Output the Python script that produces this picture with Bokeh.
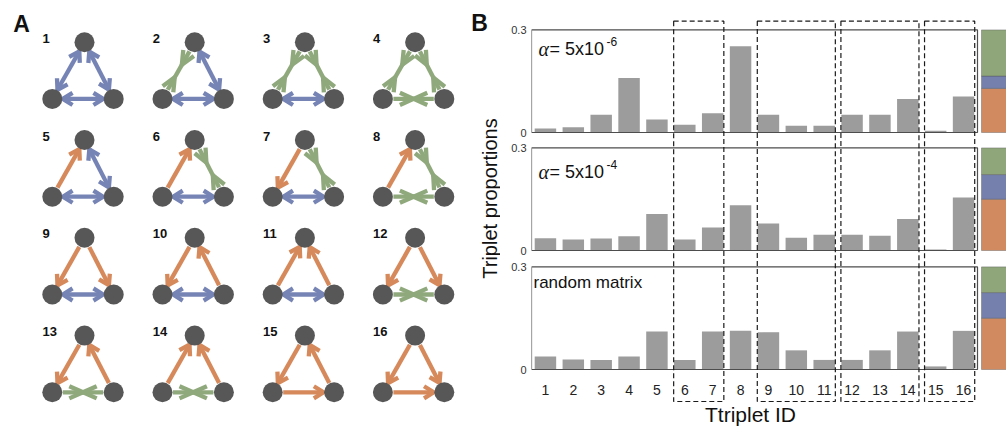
import math
from bokeh.plotting import figure
from bokeh.layouts import row
from bokeh.models import Range1d, FixedTicker, ColumnDataSource
from bokeh.embed import file_html
from bokeh.resources import INLINE
from bokeh.core.properties import value

# ---------------- data ----------------
triplet_ids = list(range(1, 17))
tick_labels = [str(i) for i in triplet_ids]
prop_alpha_5e6 = [0.012, 0.015, 0.052, 0.159, 0.038, 0.023, 0.056, 0.252,
                  0.052, 0.020, 0.020, 0.052, 0.052, 0.098, 0.005, 0.105]
prop_alpha_5e4 = [0.036, 0.032, 0.035, 0.042, 0.107, 0.032, 0.067, 0.132,
                  0.079, 0.037, 0.046, 0.046, 0.043, 0.092, 0.003, 0.155]
prop_random = [0.038, 0.029, 0.028, 0.038, 0.111, 0.028, 0.111, 0.113,
               0.109, 0.056, 0.028, 0.028, 0.056, 0.111, 0.009, 0.113]
panel_texts = ["= 5x10", "= 5x10", "random matrix"]
panel_exponents = ["-6", "-4", ""]
y_tick_labels = ["0", "0.3"]
y_tick_values = [0.0, 0.3]
mix_green = [0.45, 0.26, 0.25]
mix_blue = [0.12, 0.24, 0.25]
mix_orange = [0.43, 0.50, 0.50]
highlight_groups = [(6, 7), (9, 11), (12, 14), (15, 16)]
motif_numbers = list(range(1, 17))
# edges: (a, b, kind)  b = mutual (blue), g = green, o = directed a->b (orange)
motif_edges = [
    [("T", "L", "b"), ("T", "R", "b"), ("L", "R", "b")],
    [("T", "L", "g"), ("T", "R", "b"), ("L", "R", "b")],
    [("T", "L", "g"), ("T", "R", "g"), ("L", "R", "b")],
    [("T", "L", "g"), ("T", "R", "g"), ("L", "R", "g")],
    [("L", "T", "o"), ("T", "R", "b"), ("L", "R", "b")],
    [("L", "T", "o"), ("T", "R", "g"), ("L", "R", "b")],
    [("T", "L", "o"), ("T", "R", "g"), ("L", "R", "b")],
    [("L", "T", "o"), ("T", "R", "g"), ("L", "R", "g")],
    [("T", "L", "o"), ("T", "R", "o"), ("L", "R", "b")],
    [("T", "L", "o"), ("R", "T", "o"), ("L", "R", "b")],
    [("L", "T", "o"), ("R", "T", "o"), ("L", "R", "b")],
    [("T", "L", "o"), ("T", "R", "o"), ("L", "R", "g")],
    [("T", "L", "o"), ("R", "T", "o"), ("L", "R", "g")],
    [("L", "T", "o"), ("R", "T", "o"), ("L", "R", "g")],
    [("T", "L", "o"), ("R", "T", "o"), ("L", "R", "o")],
    [("T", "L", "o"), ("T", "R", "o"), ("L", "R", "o")],
]

# ---------------- styles ----------------
BLUE = "#7684b5"
GREEN = "#90a97c"
ORANGE = "#d6895b"
NODE = "#575757"
BAR = "#9c9c9c"
S_GREEN = "#8fa67b"
S_BLUE = "#7580ad"
S_ORANGE = "#d18a60"
FONT = "Liberation Sans"

# ---------------- panel A ----------------
pa = figure(width=500, height=429, x_range=Range1d(0, 500), y_range=Range1d(429, 0),
            output_backend="svg", toolbar_location=None, min_border=0,
            x_axis_location=None, y_axis_location=None, outline_line_color=None)
pa.grid.visible = False

R_NODE = 10.0
lines = {"b": ([], []), "g": ([], []), "o": ([], [])}


def add(kind, pts):
    lines[kind][0].append([p[0] for p in pts])
    lines[kind][1].append([p[1] for p in pts])


def chevron(tip, u, length, half):
    pts = []
    vx, vy = -u[0], -u[1]
    for s in (1, -1):
        a = s * half
        bx = vx * math.cos(a) - vy * math.sin(a)
        by = vx * math.sin(a) + vy * math.cos(a)
        pts.append((tip[0] + bx * length, tip[1] + by * length))
    return [pts[0], tip, pts[1]]


col_cx = [82.5 + 110.2 * j for j in range(4)]
row_top = [41.7 + 97.8 * i for i in range(4)]
node_x, node_y = [], []
lab_x, lab_y, lab_t = [], [], []
for idx, edges in enumerate(motif_edges):
    i, j = divmod(idx, 4)
    cx, ty = col_cx[j], row_top[i]
    nodes = {"T": (cx + 1.5, ty), "L": (cx - 30.7, ty + 56.7), "R": (cx + 30.7, ty + 56.7)}
    for a, b, kind in edges:
        P, Q = nodes[a], nodes[b]
        dx, dy = Q[0] - P[0], Q[1] - P[1]
        d = math.hypot(dx, dy)
        u = (dx / d, dy / d)
        s = (P[0] + u[0] * (R_NODE + 0.5), P[1] + u[1] * (R_NODE + 0.5))
        e = (Q[0] - u[0] * (R_NODE + 0.5), Q[1] - u[1] * (R_NODE + 0.5))
        add(kind, [s, e])
        if kind == "b":
            add(kind, chevron(e, u, 11.5, math.radians(32)))
            add(kind, chevron(s, (-u[0], -u[1]), 11.5, math.radians(32)))
        elif kind == "o":
            add(kind, chevron(e, u, 11.5, math.radians(32)))
        else:
            if abs(u[1]) < 0.1:
                t1, t2 = 0.5, 0.5
            else:
                t1, t2 = 0.4, 0.62
            v1 = (P[0] + u[0] * t1 * d, P[1] + u[1] * t1 * d)
            v2 = (P[0] + u[0] * t2 * d, P[1] + u[1] * t2 * d)
            add(kind, chevron(v1, u, 15, math.radians(24)))
            add(kind, chevron(v2, (-u[0], -u[1]), 15, math.radians(24)))
    for k in ("T", "L", "R"):
        node_x.append(nodes[k][0])
        node_y.append(nodes[k][1])
    lab_x.append(cx - 40.5)
    lab_y.append(ty - 4)
    lab_t.append(str(motif_numbers[idx]))

for kind, col in (("b", BLUE), ("g", GREEN), ("o", ORANGE)):
    pa.multi_line(xs=lines[kind][0], ys=lines[kind][1], line_color=col, line_width=4.3,
                  line_join="round", line_cap="butt")
pa.circle(x=node_x, y=node_y, radius=R_NODE, fill_color=NODE, line_color=None)
pa.text(x=lab_x, y=lab_y, text=lab_t, text_font=value(FONT), text_font_style="bold",
        text_font_size="13px", text_align="left", text_baseline="middle", text_color="#111111")
pa.text(x=[21], y=[23], text=["A"], text_font=value(FONT), text_font_style="bold",
        text_font_size="23px", text_align="center", text_baseline="middle", text_color="#111111")
pa.text(x=[479], y=[22], text=["B"], text_font=value(FONT), text_font_style="bold",
        text_font_size="23px", text_align="center", text_baseline="middle", text_color="#111111")
pa.text(x=[489], y=[198], text=["Triplet proportions"], angle=math.pi / 2,
        text_font=value(FONT), text_font_size="20px", text_align="center",
        text_baseline="middle", text_color="#111111")

# ---------------- panel B ----------------
SC = 342.0          # px per proportion unit
XPX = 27.875        # px per triplet slot
offsets = [237 / SC, 119 / SC, 0.0]
series = [prop_alpha_5e6, prop_alpha_5e4, prop_random]

pb = figure(width=506, height=429, x_range=Range1d(0.5, 0.5 + 475 / XPX),
            y_range=Range1d(-60 / SC, 369 / SC), output_backend="svg",
            toolbar_location=None, x_axis_location=None, y_axis_location="left",
            outline_line_color=None, min_border_left=31, min_border_right=0,
            min_border_top=0, min_border_bottom=0)
pb.grid.visible = False


def xd(px):
    return 0.5 + (px - 531) / XPX


def yd(py):
    return (369 - py) / SC


ticks, overrides = [], {}
for off in offsets:
    for tv, tl in zip(y_tick_values, y_tick_labels):
        ticks.append(off + tv)
        overrides[off + tv] = tl
pb.yaxis.ticker = FixedTicker(ticks=ticks)
pb.yaxis.major_label_overrides = overrides
pb.yaxis.axis_line_color = None
pb.yaxis.major_tick_line_color = None
pb.yaxis.minor_tick_line_color = None
pb.yaxis.major_tick_out = 0
pb.yaxis.major_label_standoff = 5
pb.yaxis.major_label_text_font = FONT
pb.yaxis.major_label_text_font_size = "11px"
pb.yaxis.major_label_text_color = "#333333"

strip_l, strip_r = xd(981), 0.5 + 475 / XPX
for k, (off, vals) in enumerate(zip(offsets, series)):
    src = ColumnDataSource(dict(x=triplet_ids, bottom=[off] * len(vals),
                                top=[off + v for v in vals]))
    pb.vbar(x="x", width=0.77, bottom="bottom", top="top", source=src,
            fill_color=BAR, line_color=None)
    pb.quad(left=[0.5], right=[16.5], bottom=[off], top=[off + 0.3], fill_alpha=0,
            line_color="#4d4d4d", line_width=1.2)
    b0 = off
    b1 = b0 + 0.3 * mix_orange[k]
    b2 = b1 + 0.3 * mix_blue[k]
    b3 = off + 0.3
    pb.quad(left=[strip_l] * 3, right=[strip_r] * 3, bottom=[b0, b1, b2], top=[b1, b2, b3],
            fill_color=[S_ORANGE, S_BLUE, S_GREEN], line_color="#555555", line_alpha=0.5,
            line_width=0.8)

# panel annotations
for k, (bl_py, ex_py) in enumerate([(48.5, 40.5), (171.5, 163.5)]):
    pb.text(x=[xd(538)], y=[yd(bl_py)], text=["α"], text_font=value("Liberation Serif"),
            text_font_style="italic", text_font_size="20px", text_align="left",
            text_baseline="alphabetic", text_color="#111111")
    pb.text(x=[xd(549)], y=[yd(bl_py)], text=[panel_texts[k]], text_font=value(FONT),
            text_font_size="18px", text_align="left", text_baseline="alphabetic",
            text_color="#111111")
    pb.text(x=[xd(606)], y=[yd(ex_py)], text=[panel_exponents[k]], text_font=value(FONT),
            text_font_size="12px", text_align="left", text_baseline="alphabetic",
            text_color="#111111")
pb.text(x=[xd(533)], y=[yd(281.5)], text=[panel_texts[2]], text_font=value(FONT),
        text_font_size="17px", text_align="left", text_baseline="alphabetic",
        text_color="#111111")

# dashed group boxes
pb.quad(left=[g[0] - 0.5 + 0.1 for g in highlight_groups],
        right=[g[1] + 0.5 - 0.1 for g in highlight_groups],
        bottom=[yd(401)] * len(highlight_groups), top=[yd(20.7)] * len(highlight_groups),
        fill_alpha=0, line_color="#1a1a1a", line_width=1.2, line_dash="5 3")

# x tick labels and title
pb.text(x=triplet_ids, y=[yd(389)] * 16, text=tick_labels, text_font=value(FONT),
        text_font_size="14px", text_align="center", text_baseline="middle",
        text_color="#222222")
pb.text(x=[xd(750)], y=[yd(414)], text=["Ttriplet ID"], text_font=value(FONT),
        text_font_size="21px", text_align="center", text_baseline="middle",
        text_color="#111111")

layout = row(pa, pb, spacing=0)
open("out.html", "w").write(file_html(layout, INLINE))
